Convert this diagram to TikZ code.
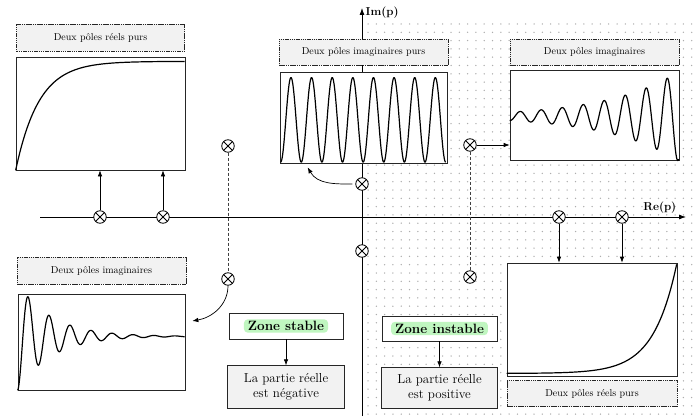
\documentclass[tikz,border=0pt]{standalone}
\usepackage{tikz}
\usepackage{amsmath}
\usetikzlibrary{arrows.meta}
\usetikzlibrary{positioning}

\definecolor{zonegreen}{RGB}{192,246,192}

\tikzset{
  polemark/.style={circle, draw, fill=white, line width=0.8pt, minimum size=12.5pt, inner sep=0pt,
    path picture={\draw[line width=0.8pt] (path picture bounding box.north west) -- (path picture bounding box.south east)
      (path picture bounding box.north east) -- (path picture bounding box.south west);}},
  titlebox/.style={draw=black!85, fill=black!5, line width=0.6pt, dash pattern=on 1.5pt off 0.7pt,
    inner sep=0pt, font=\fontsize{10}{12}\selectfont},
  plotbox/.style={draw=black!85, fill=white, line width=0.7pt, inner sep=0pt},
  zonebox/.style={draw=black!85, fill=white, line width=0.7pt, inner sep=0pt},
  hilite/.style={fill=zonegreen, rounded corners=4pt, inner xsep=4pt, inner ysep=2pt,
    font=\fontsize{13.5}{16}\selectfont\bfseries},
  resbox/.style={draw=black!85, fill=black!5, line width=0.7pt, inner sep=0pt, align=center,
    font=\fontsize{13}{15}\selectfont},
  arr/.style={-{Latex[length=6pt,width=4.5pt]}, line width=0.7pt},
  resp/.style={line width=1.2pt, line join=round}
}

\begin{document}
\begin{tikzpicture}[x=1pt, y=1pt]
    \useasboundingbox (0,0) rectangle (694,416);

    % Unstable half plane (dotted)
    \foreach \i in {0,...,39} {
        \foreach \j in {0,...,47} {
            \fill[black!32] ({368+8.3*\i},{392-8.3*\j}) circle (0.75pt);
        }
    }

    % Axes
    \coordinate (reL) at (40,199);
    \coordinate (reR) at (686,199);
    \coordinate (imB) at (362,0);
    \coordinate (imT) at (362,408);
    \draw[-{Latex[length=7pt,width=5pt]}, line width=0.8pt] (reL) -- (reR)
        node[above left, xshift=-6pt, font=\fontsize{11.5}{13}\selectfont\bfseries] (relab) {Re(p)};
    \draw[-{Latex[length=7pt,width=5pt]}, line width=0.8pt] (imB) -- (imT)
        node[right, yshift=-5pt, font=\fontsize{11.5}{13}\selectfont\bfseries] (imlab) {Im(p)};

    % Poles
    \node[polemark] (p1) at (100,199) {};
    \node[polemark] (p2) at (163,199) {};
    \node[polemark] (p3) at (228,270) {};
    \node[polemark] (p4) at (228,137) {};
    \node[polemark] (p5) at (362,232) {};
    \node[polemark] (p6) at (362,165) {};
    \node[polemark] (p7) at (470,271) {};
    \node[polemark] (p8) at (470,139) {};
    \node[polemark] (p9) at (559,199) {};
    \node[polemark] (p10) at (622,199) {};

    % Conjugate pairs
    \draw[densely dashed, black!75, line width=0.6pt] (p3) -- (p4);
    \draw[densely dashed, black!75, line width=0.6pt] (p7) -- (p8);

    % TOP LEFT: two real poles (stable)
    \node[plotbox, minimum width=169pt, minimum height=113pt] (tlplot) at (100.5,302.5) {};
    \node[titlebox, minimum width=168pt, minimum height=27pt, above=5pt of tlplot] (tltitle) {Deux pôles réels purs};
    \begin{scope}[shift={(tlplot.south west)}]
        \draw[resp] plot[domain=0:169, samples=120] (\x,{109*(1-exp(-0.043*\x))});
    \end{scope}

    % TOP MIDDLE: pure imaginary poles
    \node[plotbox, minimum width=167pt, minimum height=91pt] (tmplot) at (363.5,298.5) {};
    \node[titlebox, minimum width=169pt, minimum height=26pt, above=6pt of tmplot] (tmtitle) {Deux pôles imaginaires purs};
    \begin{scope}[shift={(tmplot.south west)}]
        \draw[resp] plot[domain=0:165, samples=400] ({\x+1},{43.5-42.3*cos(\x/20.625*360)});
    \end{scope}

    % TOP RIGHT: imaginary poles (unstable)
    \node[plotbox, minimum width=169pt, minimum height=90pt] (trplot) at (594.5,301) {};
    \node[titlebox, minimum width=169pt, minimum height=26pt, above=4pt of trplot] (trtitle) {Deux pôles imaginaires};
    \begin{scope}[shift={(trplot.south west)}]
        \draw[resp] plot[domain=0:169, samples=400] (\x,{44-4.2*exp(0.014*\x)*cos(\x/21*360)});
    \end{scope}

    % BOTTOM LEFT: imaginary poles (stable)
    \node[plotbox, minimum width=167pt, minimum height=96pt] (blplot) at (101.5,74) {};
    \node[titlebox, minimum width=169pt, minimum height=27pt, above=9pt of blplot] (bltitle) {Deux pôles imaginaires};
    \begin{scope}[shift={(blplot.south west)}]
        \draw[resp] plot[domain=0:167, samples=400] (\x,{54*(1-exp(-0.03*\x)*cos(\x/21*360))});
    \end{scope}

    % BOTTOM RIGHT: two real poles (unstable)
    \node[plotbox, minimum width=170pt, minimum height=113pt] (brplot) at (592,96.5) {};
    \node[titlebox, minimum width=170pt, minimum height=26pt, below=4pt of brplot] (brtitle) {Deux pôles réels purs};
    \begin{scope}[shift={(brplot.south west)}]
        \draw[resp] plot[domain=0:170, samples=150] (\x,{3+0.073*(exp(0.043*\x)-1)});
    \end{scope}

    % Zones
    \node[zonebox, minimum width=114pt, minimum height=26pt] (stable) at (286,90) {};
    \node[hilite] (stabletxt) at (stable) {Zone stable};
    \node[resbox, minimum width=117pt, minimum height=43pt, below=26pt of stable] (neg) {La partie réelle\\est négative};
    \node[zonebox, minimum width=115pt, minimum height=25pt] (instable) at (439.5,87.5) {};
    \node[hilite] (instabletxt) at (instable) {Zone instable};
    \node[resbox, minimum width=116pt, minimum height=41pt, below=26pt of instable] (pos) {La partie réelle\\est positive};
    \draw[arr] (stable) -- (neg);
    \draw[arr] (instable) -- (pos);

    % Arrows from poles to responses
    \draw[arr] (p1) -- (p1 |- tlplot.south);
    \draw[arr] (p2) -- (p2 |- tlplot.south);
    \draw[arr] (p9) -- (p9 |- brplot.north);
    \draw[arr] (p10) -- (p10 |- brplot.north);
    \draw[arr] (p7) -- (p7 -| trplot.west);
    \coordinate (tmend) at ([xshift=28pt, yshift=-4pt] tmplot.south west);
    \draw[arr, shorten <=3pt] (p5) to[out=180, in=-60] (tmend);
    \coordinate (blend) at ([xshift=7pt, yshift=21pt] blplot.east);
    \draw[arr] (p4) to[out=-90, in=10] (blend);

\end{tikzpicture}
\end{document}
